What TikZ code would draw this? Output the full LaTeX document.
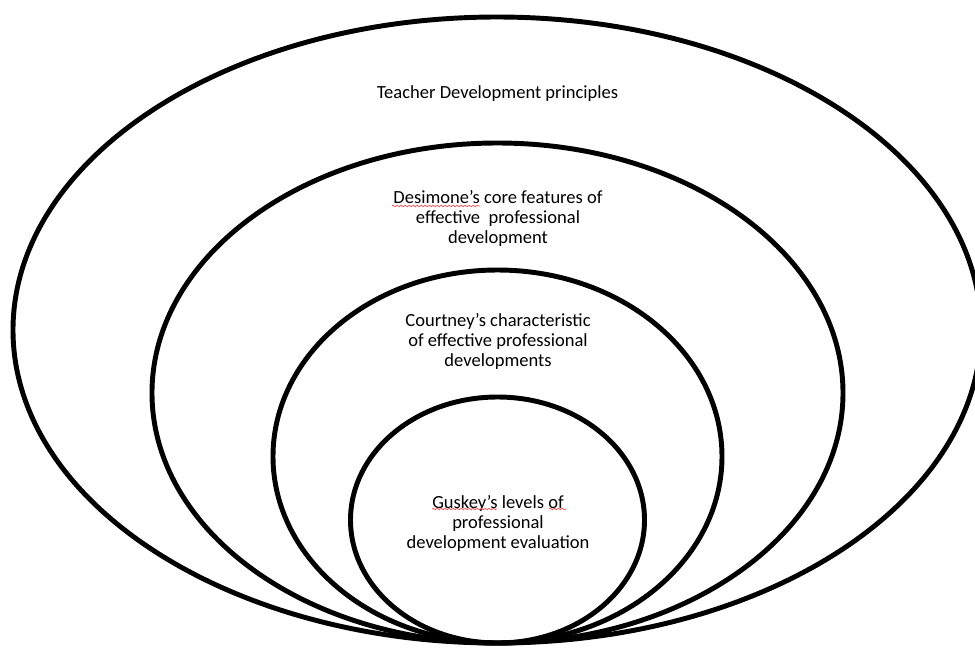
\documentclass[tikz,border=0pt]{standalone}
\usepackage{fontspec}
\setmainfont{Carlito}
\usetikzlibrary{decorations.pathmorphing}
\begin{document}
\begin{tikzpicture}[x=0.75pt,y=-0.75pt,
  ring/.style={draw=black,line width=3.7pt},
  label/.style={align=center,inner sep=0pt,font=\fontsize{13.9}{15}\selectfont},
  spell/.style={draw=red!70,line width=0.5pt,decorate,decoration={snake,amplitude=0.6pt,segment length=3pt}}]
\useasboundingbox (0,0) rectangle (975,647);
\fill[white] (0,0) rectangle (975,647);
\draw[ring] (497,330) ellipse [x radius=484, y radius=313];
\draw[ring] (497.5,393) ellipse [x radius=345.5, y radius=250];
\draw[ring] (497.5,456.5) ellipse [x radius=224.5, y radius=186.5];
\draw[ring] (497.5,520) ellipse [x radius=147, y radius=123];
\node[label] (teacher) at (497.5,94) {Teacher Development principles};
\node[label] (desimone) at (498,218) {Desimone’s core features of\\effective~ professional\\development};
\node[label] (courtney) at (498,341) {Courtney’s characteristic\\of effective professional\\developments};
\node[label] (guskey) at (498,523) {Guskey’s levels of\\professional\\development evaluation};
\coordinate (dA) at (392,206); \coordinate (dB) at (480,206);
\coordinate (gA) at (432,509); \coordinate (gB) at (497,509);
\coordinate (oA) at (549,509); \coordinate (oB) at (566,509);
\draw[spell] (dA) -- (dB);
\draw[spell] (gA) -- (gB);
\draw[spell] (oA) -- (oB);
\end{tikzpicture}
\end{document}
